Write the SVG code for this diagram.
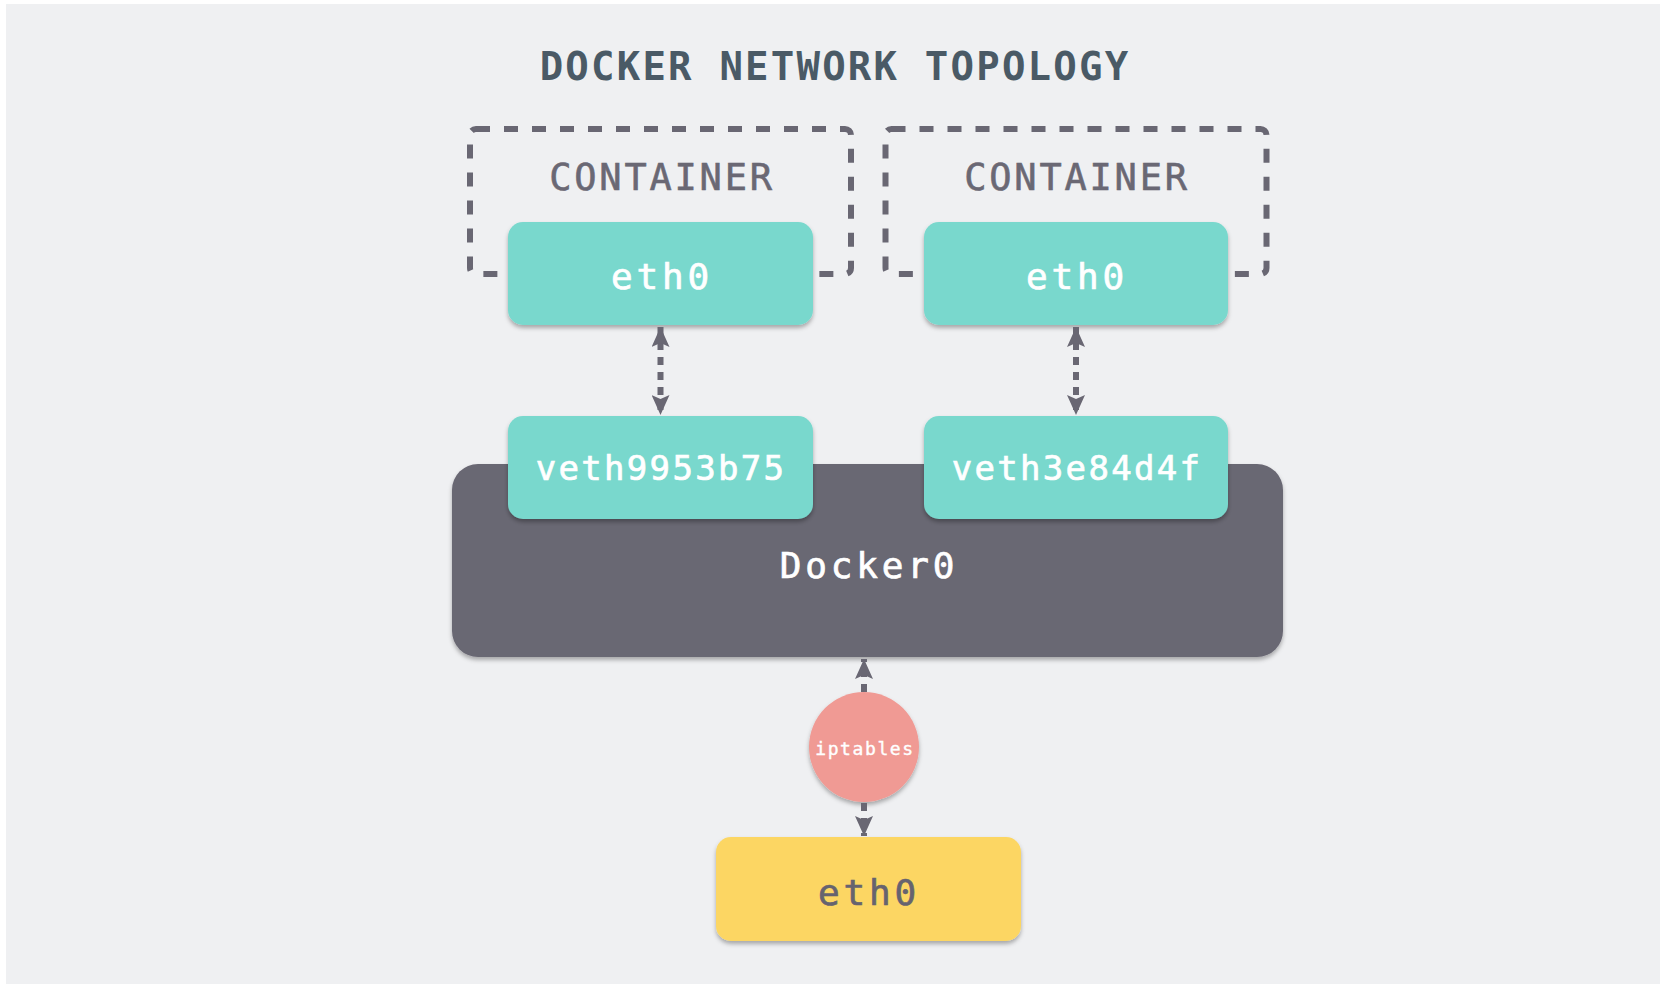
<svg xmlns="http://www.w3.org/2000/svg" width="1660" height="984" viewBox="0 0 1660 984">
  <style>
    .mono { font-family: "DejaVu Sans Mono", "Liberation Mono", monospace; text-anchor: middle; }
    .title { font-size: 39px; fill: #4a5a66; font-weight: bold; letter-spacing: 2.2px; }
    .cont { font-size: 37px; fill: #6a6874; letter-spacing: 2.8px; stroke: #6a6874; stroke-width: 0.6px; }
    .lbl { font-size: 36px; fill: #ffffff; letter-spacing: 3.8px; stroke: #ffffff; stroke-width: 0.7px; }
    .veth { font-size: 34px; fill: #ffffff; letter-spacing: 2.3px; stroke: #ffffff; stroke-width: 0.7px; }
    .ipt { font-size: 18px; fill: #ffffff; letter-spacing: 1.6px; stroke: #ffffff; stroke-width: 0.4px; }
    .teal { fill: #79d8cd; }
    .dashbox { fill: none; stroke: #696773; stroke-width: 6; stroke-dasharray: 14 14; }
    .conn { fill: none; stroke: #696773; stroke-width: 6; stroke-dasharray: 8 7; }
  </style>
  <defs>
    <filter id="sh" x="-10%" y="-10%" width="120%" height="130%">
      <feDropShadow dx="0" dy="3" stdDeviation="2" flood-color="#000000" flood-opacity="0.3"/>
    </filter>
    <marker id="ah" viewBox="0 0 20 18" refX="20" refY="9" markerWidth="20" markerHeight="18" markerUnits="userSpaceOnUse" orient="auto-start-reverse">
      <path d="M0,0 L20,9 L0,18 L4,9 Z" fill="#696773"/>
    </marker>
  </defs>

  <rect x="0" y="0" width="1660" height="984" fill="#ffffff"/>
  <rect x="6" y="4" width="1654" height="980" fill="#eff0f2"/>

  <text class="mono title" x="835" y="80">DOCKER NETWORK TOPOLOGY</text>

  <g id="container1">
    <rect class="dashbox" x="470" y="129" width="381" height="145" rx="6"/>
    <text class="mono cont" x="662" y="190">CONTAINER</text>
  </g>
  <g id="container2">
    <rect class="dashbox" x="885.5" y="129" width="381" height="145" rx="6"/>
    <text class="mono cont" x="1077" y="190">CONTAINER</text>
  </g>

  <g id="docker0">
    <rect x="452" y="464" width="831" height="193" rx="26" fill="#696773" filter="url(#sh)"/>
    <text class="mono lbl" x="869" y="578">Docker0</text>
  </g>

  <g id="eth0-c1">
    <rect class="teal" x="508" y="222" width="305" height="103" rx="15" filter="url(#sh)"/>
    <text class="mono lbl" x="662" y="289">eth0</text>
  </g>
  <g id="eth0-c2">
    <rect class="teal" x="924" y="222" width="304" height="103" rx="15" filter="url(#sh)"/>
    <text class="mono lbl" x="1077" y="289">eth0</text>
  </g>
  <g id="veth9953b75">
    <rect class="teal" x="508" y="416" width="305" height="103" rx="15" filter="url(#sh)"/>
    <text class="mono veth" x="661" y="480">veth9953b75</text>
  </g>
  <g id="veth3e84d4f">
    <rect class="teal" x="924" y="416" width="304" height="103" rx="15" filter="url(#sh)"/>
    <text class="mono veth" x="1077" y="480">veth3e84d4f</text>
  </g>

  <g id="iptables">
    <circle cx="864" cy="747" r="55" fill="#f09a94" filter="url(#sh)"/>
    <text class="mono ipt" x="865" y="755">iptables</text>
  </g>

  <g id="eth0-host">
    <rect x="716" y="837" width="305" height="104" rx="15" fill="#fcd663" filter="url(#sh)"/>
    <text class="mono lbl" x="869" y="905" style="fill:#66636f;stroke:#66636f">eth0</text>
  </g>

  <g id="connectors">
    <path class="conn" d="M660.5,327 L660.5,415" marker-start="url(#ah)" marker-end="url(#ah)"/>
    <path class="conn" d="M1076,327 L1076,415" marker-start="url(#ah)" marker-end="url(#ah)"/>
    <path class="conn" d="M864,692 L864,659" marker-end="url(#ah)"/>
    <path class="conn" d="M864,803 L864,836" marker-end="url(#ah)"/>
  </g>
</svg>
